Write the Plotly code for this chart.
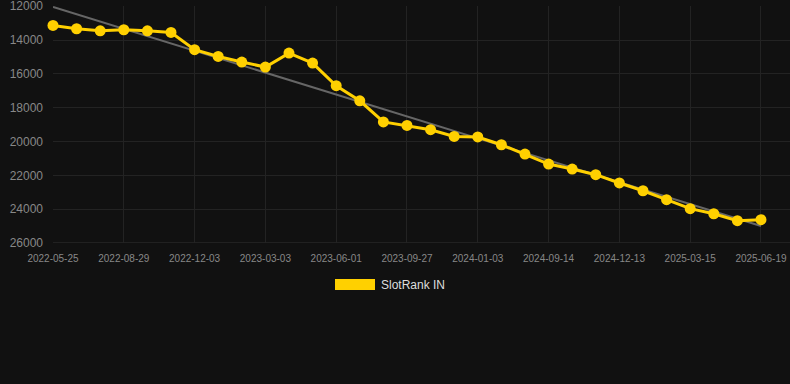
import numpy as np
import plotly.graph_objects as go

dates = ["2022-05-25", "2022-06-27", "2022-07-28", "2022-08-29", "2022-09-30", "2022-11-01",
         "2022-12-03", "2023-01-01", "2023-02-01", "2023-03-03", "2023-04-02", "2023-05-02",
         "2023-06-01", "2023-07-10", "2023-08-18", "2023-09-27", "2023-10-30", "2023-12-01",
         "2024-01-03", "2024-04-01", "2024-06-25", "2024-09-14", "2024-10-14", "2024-11-13",
         "2024-12-13", "2025-01-12", "2025-02-12", "2025-03-15", "2025-04-15", "2025-05-18",
         "2025-06-19"]
rank = [13135, 13330, 13450, 13390, 13450, 13550,
        14570, 14970, 15300, 15595, 14770, 15360,
        16700, 17590, 18840, 19050, 19300, 19700,
        19730, 20190, 20740, 21330, 21625, 21960,
        22450, 22910, 23440, 23970, 24270, 24680,
        24620]
series_name = "SlotRank IN"
tick_dates = dates[::3]
y_ticks = [12000, 14000, 16000, 18000, 20000, 22000, 24000, 26000]

idx = np.arange(len(rank))
slope, intercept = np.polyfit(idx, rank, 1)
trend = slope * idx + intercept

fig = go.Figure()
fig.add_trace(go.Scatter(x=dates, y=trend, mode="lines",
                         line=dict(color="#666666", width=2), showlegend=False,
                         hoverinfo="skip", cliponaxis=False))
fig.add_trace(go.Scatter(x=dates, y=rank, mode="lines+markers", name=series_name,
                         line=dict(color="#FFD000", width=3),
                         marker=dict(color="#FFD000", size=11),
                         showlegend=False, cliponaxis=False))

L, R, T, B = 53, 0, 6, 141
W, H = 790, 384
pw, ph = W - L - R, H - T - B

def px_x(p):
    return (p - L) / pw

def px_y(p):
    return (H - B - p) / ph

fig.add_shape(type="rect", xref="paper", yref="paper",
              x0=px_x(335), x1=px_x(375), y0=px_y(290), y1=px_y(279),
              fillcolor="#FFD000", line=dict(width=0))
fig.add_annotation(xref="paper", yref="paper", x=px_x(379), y=px_y(285),
                   xanchor="left", yanchor="middle", text=series_name, showarrow=False,
                   font=dict(size=12, color="#DDDDDD"))

fig.update_layout(
    width=W, height=H,
    margin=dict(l=L, r=R, t=T, b=B),
    paper_bgcolor="#111111", plot_bgcolor="#111111",
    font=dict(family="Liberation Sans, Arial, sans-serif", color="#888888"),
    showlegend=False,
)
fig.update_xaxes(type="category", categoryorder="array", categoryarray=dates,
                 range=[0, 31.23], tickmode="array", tickvals=tick_dates, ticktext=tick_dates,
                 showgrid=True, gridcolor="#232323", gridwidth=1,
                 tickfont=dict(size=10, color="#888888"), ticks="", zeroline=False,
                 showline=False, ticklabelstandoff=8)
fig.update_yaxes(range=[26000, 11985], tickmode="array", tickvals=y_ticks,
                 ticktext=[str(v) for v in y_ticks],
                 showgrid=True, gridcolor="#232323", gridwidth=1,
                 tickfont=dict(size=12, color="#888888"), ticks="", zeroline=False,
                 ticklabelstandoff=9, ticklabeloverflow="allow")
fig.add_shape(type="line", xref="paper", yref="y", x0=0, x1=1, y0=26000, y1=26000,
              line=dict(color="#333333", width=1), layer="below")

fig.write_html("out.html")
